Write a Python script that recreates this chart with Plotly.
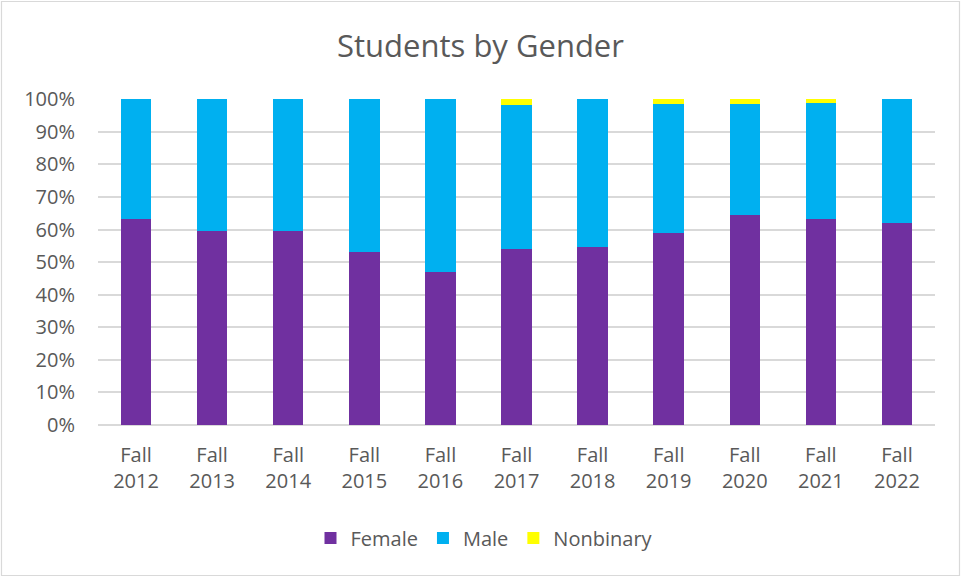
import plotly.graph_objects as go

years = ["2012", "2013", "2014", "2015", "2016", "2017", "2018", "2019", "2020", "2021", "2022"]
tick_labels = ["Fall<br>" + y for y in years]
female = [63.1, 59.6, 59.6, 53.2, 47.1, 54.1, 54.7, 58.8, 64.3, 63.1, 62.0]
male = [36.9, 40.4, 40.4, 46.8, 52.9, 44.1, 45.3, 39.6, 34.3, 35.6, 38.0]
nonbinary = [0.0, 0.0, 0.0, 0.0, 0.0, 1.8, 0.0, 1.6, 1.4, 1.3, 0.0]

series = [("Female", female, "#7030A0"), ("Male", male, "#00B0F0"), ("Nonbinary", nonbinary, "#FFFF00")]

W, H = 961, 577
L, R, T, B = 98, 26, 99, 152
pw, ph = W - L - R, H - T - B

fig = go.Figure()
for name, vals, col in series:
    fig.add_trace(go.Bar(
        x=tick_labels, y=[v / 100 for v in vals], name=name,
        marker=dict(color=col, line=dict(width=0)),
    ))

fig.update_layout(
    width=W, height=H,
    margin=dict(l=L, r=R, t=T, b=B),
    barmode="stack", bargap=0.6,
    plot_bgcolor="white", paper_bgcolor="white",
    font=dict(family="Open Sans, sans-serif", color="#595959", size=20),
    title=dict(text="Students by Gender", x=0.5, xanchor="center", y=1 - 46 / H, yanchor="middle",
               font=dict(size=31, color="#595959", family="Open Sans, sans-serif")),
    showlegend=True,
    legend=dict(orientation="h", x=0.5 - 32 / pw, xanchor="center", y=-113 / ph, yanchor="middle",
                font=dict(size=20, color="#595959"), traceorder="normal", itemwidth=30),
    xaxis=dict(showgrid=False, showline=False, ticks="", tickfont=dict(size=20, color="#595959"),
               tickangle=0, ticklabelstandoff=16),
    yaxis=dict(range=[0, 1.0005], tickformat=".0%", dtick=0.1, showgrid=True, gridcolor="#D9D9D9",
               gridwidth=1.5, zeroline=True, zerolinecolor="#D9D9D9", zerolinewidth=1.5,
               showline=False, ticks="", tickfont=dict(size=20, color="#595959"), ticklabelstandoff=22),
    shapes=[dict(type="rect", xref="paper", yref="paper",
                 x0=-(L - 1.5) / pw, x1=1 + (R - 1.5) / pw,
                 y0=-(B - 1.5) / ph, y1=1 + (T - 1.5) / ph,
                 line=dict(color="#D9D9D9", width=1.2), layer="below")],
)

fig.write_html("out.html", config={"displayModeBar": False},
               post_script="document.body.style.margin='0';document.body.style.padding='0';")
